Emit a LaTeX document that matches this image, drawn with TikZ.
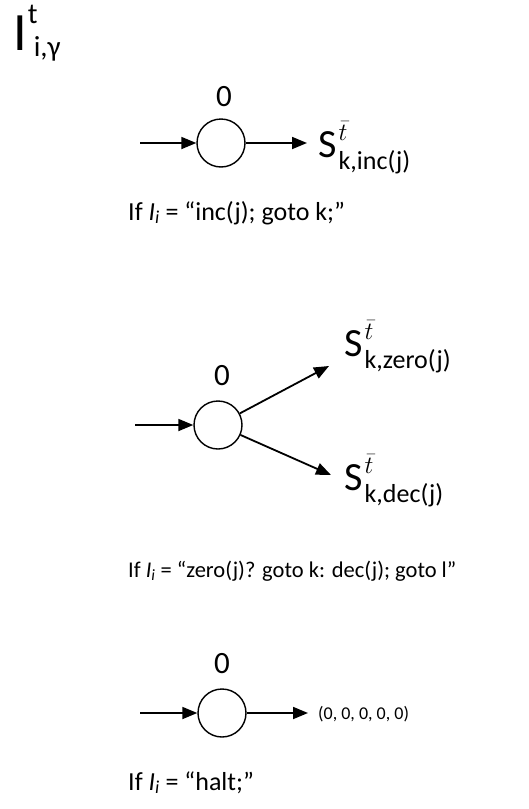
\documentclass[tikz,border=0pt]{standalone}
\usepackage{fontspec}
\setmainfont{Carlito}
\usetikzlibrary{arrows.meta}
\tikzset{
  arr/.style={line width=1.8pt,-{Triangle[length=15pt,width=12pt]}},
  state/.style={circle,draw,line width=1.4pt,minimum size=48pt,inner sep=0pt},
  zero/.style={font=\fontsize{31}{31}\selectfont,inner sep=0pt},
  slabel/.style={font=\fontsize{40}{40}\selectfont,inner sep=0pt,anchor=base west},
  caption/.style={font=\fontsize{26}{26}\selectfont,inner sep=0pt,anchor=base west},
}
\newcommand{\Sto}[1]{S\hspace{2pt}\rlap{\raisebox{17pt}{\fontsize{27}{27}\selectfont$\bar{t}$}}\raisebox{-12pt}{\fontsize{26}{26}\selectfont #1}}
\begin{document}
\begin{tikzpicture}[x=1pt,y=-1pt]
\useasboundingbox[fill=white] (0,0) rectangle (528,809);
% title
\node[inner sep=0pt,anchor=base west] (title) at (13,50) {{\fontsize{54}{54}\selectfont I}\hspace{1pt}\rlap{\raisebox{27pt}{\fontsize{29}{29}\selectfont t}}\hspace{6pt}\raisebox{-6pt}{\fontsize{29}{29}\selectfont i,γ}};

% diagram 1
\node[state] (c1) at (221,143) {};
\node[zero] (z1) at (224,97) {0};
\coordinate (in1) at (140,143);
\node[slabel] (s1) at (318,157) {\Sto{k,inc(j)}};
\coordinate (o1) at (307,143);
\draw[arr] (in1) -- (c1);
\draw[arr] (c1) -- (o1);
\node[caption] (cap1) at (128,220) {If \textit{I}\textsubscript{\textit{i}} = “inc(j); goto k;”};

% diagram 2
\node[state] (c2) at (218,425) {};
\node[zero] (z2) at (222,376) {0};
\coordinate (in2) at (135,425);
\coordinate (o2a) at (329,366);
\coordinate (o2b) at (331,475);
\node[slabel] (s2a) at (344,356) {\Sto{k,zero(j)}};
\node[slabel] (s2b) at (344,490) {\Sto{k,dec(j)}};
\draw[arr] (in2) -- (c2);
\draw[arr] (c2) -- (o2a);
\draw[arr] (c2) -- (o2b);
\node[caption,font=\fontsize{22.5}{22.5}\selectfont] (cap2) at (128,577) {If \textit{I}\textsubscript{\textit{i}} = “zero(j)? goto k: dec(j); goto l”};

% diagram 3
\node[state] (c3) at (222,713) {};
\node[zero] (z3) at (222,664) {0};
\coordinate (in3) at (140,713);
\coordinate (o3) at (308,713);
\node[font=\fontsize{18}{18}\selectfont,inner sep=0pt,anchor=west] (t3) at (318,714) {(0, 0, 0, 0, 0)};
\draw[arr] (in3) -- (c3);
\draw[arr] (c3) -- (o3);
\node[caption] (cap3) at (128,790) {If \textit{I}\textsubscript{\textit{i}} = “halt;”};
\end{tikzpicture}
\end{document}
